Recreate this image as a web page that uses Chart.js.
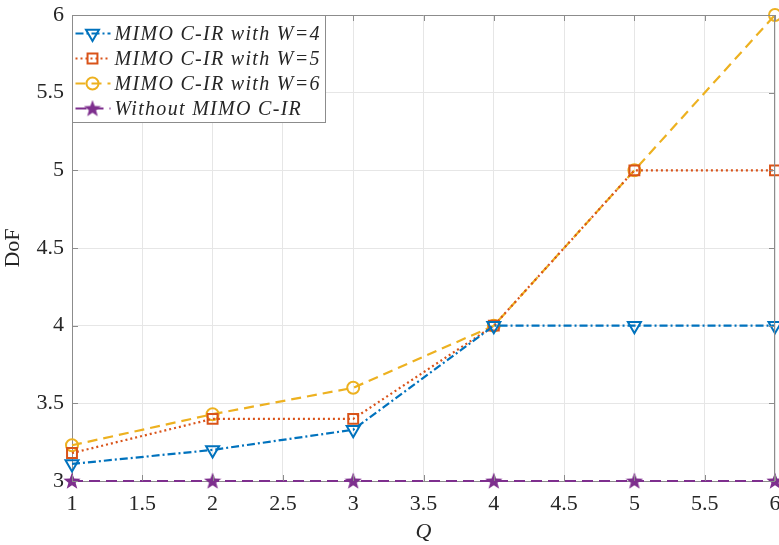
<!DOCTYPE html>
<html>
<head>
<meta charset="utf-8">
<script src="https://cdn.jsdelivr.net/npm/chart.js@4"></script>
<style>
  html, body { margin: 0; padding: 0; background: #fff; overflow: hidden; }
  #wrap { width: 779px; height: 545px; overflow: hidden; }
</style>
</head>
<body>
<div id="wrap"><canvas id="myChart" width="800" height="545"></canvas></div>
<script>
const ctx = document.getElementById('myChart');

// data
const qValues = [1, 2, 3, 4, 5, 6];
const dofW4 = [3.11, 3.2, 3.33, 4, 4, 4];
const dofW5 = [3.18, 3.4, 3.4, 4, 5, 5];
const dofW6 = [3.23, 3.43, 3.6, 4, 5, 6];
const dofNone = [3, 3, 3, 3, 3, 3];
const seriesLabels = [
    'MIMO C-IR with W=4',
    'MIMO C-IR with W=5',
    'MIMO C-IR with W=6',
    'Without MIMO C-IR'
];

const frameColor = '#8c8c8c';
const gridColor = '#e6e6e6';
const textColor = '#262626';
const serif = '"Liberation Serif", "DejaVu Serif", serif';

function toPoints(ys) {
    var pts = [];
    for (var i = 0; i < qValues.length; i++) {
        pts.push({x: qValues[i], y: ys[i]});
    }
    return pts;
}

function tickText(v) {
    return String(Number(v.toFixed(1)));
}

// filled pentagram marker
function starMarker(color, size) {
    const c = document.createElement('canvas');
    c.width = size;
    c.height = size;
    const g = c.getContext('2d');
    const cx = size / 2, cy = size / 2 + 0.5, ro = size / 2, ri = ro * 0.42;
    g.beginPath();
    for (var k = 0; k < 10; k++) {
        const r = k % 2 === 0 ? ro : ri;
        const a = -Math.PI / 2 + k * Math.PI / 5;
        const px = cx + r * Math.cos(a), py = cy + r * Math.sin(a);
        if (k === 0) g.moveTo(px, py); else g.lineTo(px, py);
    }
    g.closePath();
    g.fillStyle = color;
    g.fill();
    return c;
}

// top/right box lines and inward tick marks
const frame = {
    id: 'frame',
    afterDraw(chart) {
        const c = chart.ctx, a = chart.chartArea;
        const xs = chart.scales.x, ys = chart.scales.y;
        c.save();
        c.strokeStyle = frameColor;
        c.lineWidth = 1;
        c.beginPath();
        c.moveTo(a.left, a.top + 0.5);
        c.lineTo(a.right, a.top + 0.5);
        c.moveTo(a.right - 0.5, a.top);
        c.lineTo(a.right - 0.5, a.bottom);
        xs.ticks.forEach(t => {
            const px = Math.round(xs.getPixelForValue(t.value)) + 0.5;
            c.moveTo(px, a.bottom); c.lineTo(px, a.bottom - 6);
            c.moveTo(px, a.top); c.lineTo(px, a.top + 6);
        });
        ys.ticks.forEach(t => {
            const py = Math.round(ys.getPixelForValue(t.value)) + 0.5;
            c.moveTo(a.left, py); c.lineTo(a.left + 6, py);
            c.moveTo(a.right, py); c.lineTo(a.right - 6, py);
        });
        c.stroke();
        c.restore();
    }
};

// MATLAB style boxed legend in the upper left corner
const boxLegend = {
    id: 'boxLegend',
    afterDraw(chart) {
        const c = chart.ctx, a = chart.chartArea;
        const x0 = a.left + 0.5, y0 = a.top + 0.5, w = 253, h = 107;
        c.save();
        c.fillStyle = '#fff';
        c.fillRect(x0, y0, w, h);
        c.strokeStyle = frameColor;
        c.lineWidth = 1;
        c.strokeRect(x0, y0, w, h);
        chart.data.datasets.forEach((ds, i) => {
            const y = y0 + 18 + i * 25;
            c.strokeStyle = ds.borderColor;
            c.lineWidth = ds.borderWidth;
            c.setLineDash(ds.borderDash);
            c.beginPath();
            c.moveTo(x0 + 3, y);
            c.lineTo(x0 + 38, y);
            c.stroke();
            c.setLineDash([]);
            c.fillStyle = ds.pointBackgroundColor;
            c.strokeStyle = ds.pointBorderColor;
            c.lineWidth = ds.pointBorderWidth;
            Chart.helpers.drawPoint(c, {
                pointStyle: ds.pointStyle,
                rotation: ds.pointRotation || 0,
                radius: ds.pointRadius,
                borderWidth: ds.pointBorderWidth
            }, x0 + 20, y);
            c.fillStyle = textColor;
            c.font = 'italic 20px ' + serif;
            c.letterSpacing = '1.3px';
            c.textBaseline = 'middle';
            c.fillText(ds.label, x0 + 42, y + 1);
            c.letterSpacing = '0px';
        });
        c.restore();
    }
};

function makeSet(label, ys, color, dash, style, radius) {
    return {
        label: label,
        data: toPoints(ys),
        borderColor: color,
        backgroundColor: 'transparent',
        borderWidth: 2.2,
        borderDash: dash,
        pointStyle: style,
        pointRadius: radius,
        pointHoverRadius: radius,
        pointBorderColor: color,
        pointBackgroundColor: 'transparent',
        pointBorderWidth: 2,
        tension: 0,
        clip: false
    };
}

const setW4 = makeSet(seriesLabels[0], dofW4, '#0072BD', [8, 3, 2, 3], 'triangle', 7.5);
setW4.pointRotation = 180;
const setW5 = makeSet(seriesLabels[1], dofW5, '#D95319', [2, 3], 'rect', 7);
const setW6 = makeSet(seriesLabels[2], dofW6, '#EDB120', [10, 6], 'circle', 6);
const setNone = makeSet(seriesLabels[3], dofNone, '#7E2F8E', [11, 6], starMarker('#7E2F8E', 18), 9);

new Chart(ctx, {
    type: 'line',
    data: {
        datasets: [setW4, setW5, setW6, setNone]
    },
    options: {
        responsive: false,
        animation: false,
        layout: {
            padding: {top: 15, right: 25, left: 0, bottom: 0}
        },
        plugins: {
            legend: {display: false},
            tooltip: {enabled: false}
        },
        scales: {
            x: {
                type: 'linear',
                min: 1,
                max: 6,
                ticks: {
                    stepSize: 0.5,
                    padding: 10,
                    color: textColor,
                    maxRotation: 0,
                    font: {family: serif, size: 22},
                    callback: tickText
                },
                grid: {color: gridColor, drawTicks: false},
                border: {color: frameColor},
                title: {
                    display: true,
                    text: 'Q',
                    color: textColor,
                    padding: 0,
                    font: {family: serif, size: 22, style: 'italic'}
                },
                afterFit(scale) {
                    scale.height = 64;
                    scale.paddingLeft = 0;
                    scale.paddingRight = 0;
                }
            },
            y: {
                min: 3,
                max: 6,
                ticks: {
                    stepSize: 0.5,
                    padding: 8,
                    color: textColor,
                    font: {family: serif, size: 22},
                    callback: tickText
                },
                grid: {color: gridColor, drawTicks: false},
                border: {color: frameColor},
                title: {
                    display: true,
                    text: 'DoF',
                    color: textColor,
                    padding: 0,
                    font: {family: serif, size: 22}
                },
                afterFit(scale) {
                    scale.width = 72;
                    scale.paddingTop = 0;
                    scale.paddingBottom = 0;
                }
            }
        }
    },
    plugins: [frame, boxLegend]
});
</script>
</body>
</html>
